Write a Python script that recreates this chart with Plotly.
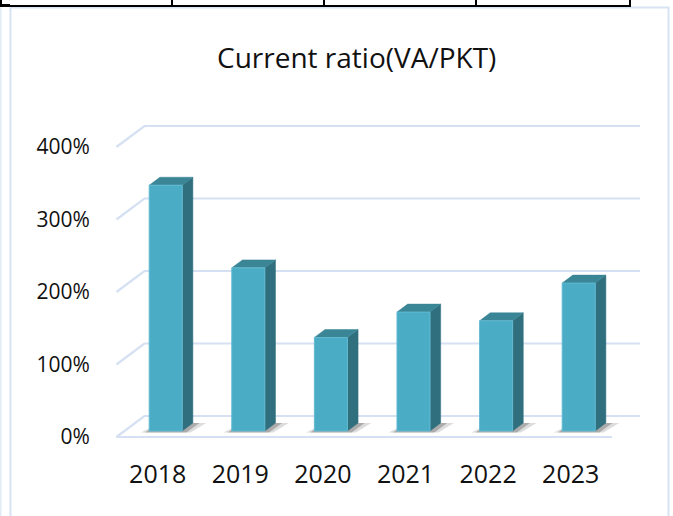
import plotly.graph_objects as go

# ---------------- data ----------------
years = ["2018", "2019", "2020", "2021", "2022", "2023"]
ratios = [339, 225, 129, 164, 152, 204]          # percent
y_tick_vals = [0, 100, 200, 300, 400]
y_tick_text = ["0%", "100%", "200%", "300%", "400%"]
title_text = "Current ratio(VA/PKT)"

# ---------------- geometry (oblique 3D look) ----------------
W, H = 673, 516
ML, MR, MT, MB = 110, 28, 120, 76
PW, PH = W - ML - MR, H - MT - MB
XR = [-0.5775, -0.5775 + PW / 82.6]
YR = [-3 / 0.725, (437 - MT) / 0.725]
DX = 28 / 82.6      # full floor depth, x units
DY = 21 / 0.725     # full floor depth, y units
X0, X1 = -0.5, 5.5  # floor extent
D_FRONT, D_BAR = 0.286, 0.38
BW = 0.40

FRONT = "#4BACC6"
SIDE = "#306F7E"
TOP = "#3A8596"
GRID = "#D5E1F2"

def px2paper_x(px):
    return (px - ML) / PW

def px2paper_y(py):
    return (H - MB - py) / PH

fig = go.Figure()

# gridlines (front diagonal + back wall)
gx, gy = [], []
for v in y_tick_vals:
    if v == 0:
        gx += [X1, X0, X0 + DX, X1 + DX, None]
        gy += [0, 0, DY, DY, None]
    else:
        gx += [X0, X0 + DX, X1 + DX, None]
        gy += [v, v + DY, v + DY, None]
fig.add_trace(go.Scatter(x=gx, y=gy, mode="lines",
                         line=dict(color=GRID, width=2.2),
                         hoverinfo="skip", showlegend=False))

xs = list(range(len(years)))
bx = [i + D_FRONT * DX for i in xs]
base = D_FRONT * DY
dx, dy = D_BAR * DX, D_BAR * DY

# soft floor shadows (two layers for a soft edge)
for xc in bx:
    xl, xr = xc - BW / 2, xc + BW / 2
    for grow, alpha in [(0.10, 0.18), (0.05, 0.30)]:
        fig.add_trace(go.Scatter(
            x=[xl - grow, xr + grow, xr + dx + grow * 1.6, xl + dx, xl - grow],
            y=[base - 2.0, base - 2.0, base + dy, base + dy, base - 2.0],
            fill="toself", fillcolor=f"rgba(60,60,60,{alpha})", mode="none",
            hoverinfo="skip", showlegend=False))

# bars: side, top and front faces
for xc, v in zip(bx, ratios):
    xl, xr = xc - BW / 2, xc + BW / 2
    top = base + v
    fig.add_trace(go.Scatter(
        x=[xr, xr + dx, xr + dx, xr, xr],
        y=[base, base + dy, top + dy, top, base],
        fill="toself", fillcolor=SIDE, mode="lines",
        line=dict(color=SIDE, width=0.5),
        hoverinfo="skip", showlegend=False))
    fig.add_trace(go.Scatter(
        x=[xl, xr, xr + dx, xl + dx, xl],
        y=[top, top, top + dy, top + dy, top],
        fill="toself", fillcolor=TOP, mode="lines",
        line=dict(color=TOP, width=0.5),
        hoverinfo="skip", showlegend=False))
    fig.add_trace(go.Scatter(
        x=[xl, xr, xr, xl, xl],
        y=[base, base, top, top, base],
        fill="toself", fillcolor=FRONT, mode="lines",
        line=dict(color="#62BAD1", width=1),
        hoverinfo="skip", showlegend=False))

# ---------------- decoration ----------------
shapes = []
# chart frame
shapes.append(dict(type="rect", xref="paper", yref="paper",
                   x0=px2paper_x(10.5), x1=px2paper_x(668.5),
                   y0=px2paper_y(530), y1=px2paper_y(7.5),
                   line=dict(color="#D8E3F3", width=2), layer="below"))
shapes.append(dict(type="line", xref="paper", yref="paper",
                   x0=px2paper_x(0.8), x1=px2paper_x(0.8),
                   y0=px2paper_y(7), y1=px2paper_y(520),
                   line=dict(color="#E2EAF6", width=1.5)))
# table border above
shapes.append(dict(type="line", xref="paper", yref="paper",
                   x0=px2paper_x(0), x1=px2paper_x(631),
                   y0=px2paper_y(6), y1=px2paper_y(6),
                   line=dict(color="black", width=2)))
shapes.append(dict(type="line", xref="paper", yref="paper",
                   x0=px2paper_x(0), x1=px2paper_x(10),
                   y0=px2paper_y(5.5), y1=px2paper_y(5.5),
                   line=dict(color="black", width=3)))
for xv in [1, 172, 324, 476, 630]:
    shapes.append(dict(type="line", xref="paper", yref="paper",
                       x0=px2paper_x(xv), x1=px2paper_x(xv),
                       y0=px2paper_y(0), y1=px2paper_y(6),
                       line=dict(color="black", width=2)))

annotations = [dict(text=title_text, xref="paper", yref="paper",
                    x=px2paper_x(356), y=px2paper_y(57),
                    xanchor="center", yanchor="middle", showarrow=False,
                    font=dict(family="Open Sans", size=28, color="#111111"))]

fig.update_layout(
    width=W, height=H,
    margin=dict(l=ML, r=MR, t=MT, b=MB, pad=0),
    paper_bgcolor="white", plot_bgcolor="white",
    shapes=shapes, annotations=annotations,
    showlegend=False,
    xaxis=dict(range=XR, tickvals=xs, ticktext=years, showgrid=False,
               zeroline=False, showline=False, ticks="outside", ticklen=12,
               tickcolor="rgba(0,0,0,0)",
               tickfont=dict(family="Open Sans", size=25, color="#111111"),
               fixedrange=True),
    yaxis=dict(range=YR, tickvals=y_tick_vals, ticktext=y_tick_text,
               showgrid=False, zeroline=False, showline=False,
               ticks="outside", ticklen=15, tickcolor="rgba(0,0,0,0)",
               tickfont=dict(family="Open Sans", size=21, color="#111111"),
               fixedrange=True),
)

fig.write_html("out.html",
               config={"displayModeBar": False},
               post_script="document.body.style.margin='0';document.body.style.overflow='hidden';")
